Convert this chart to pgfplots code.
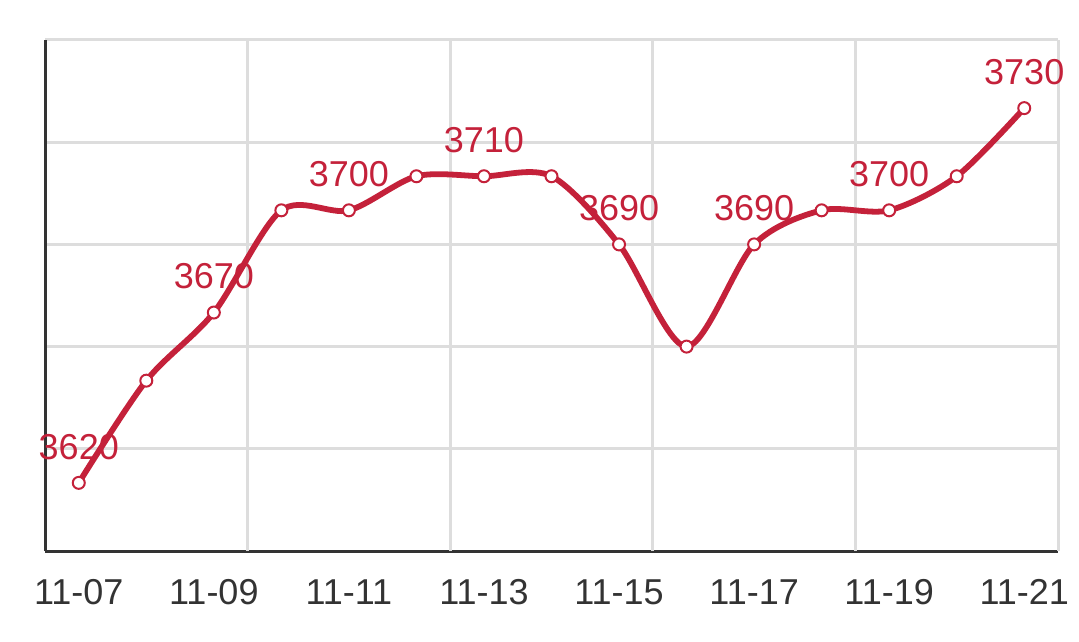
\documentclass[border=0pt]{standalone}
\usepackage{pgfplots}
\pgfplotsset{compat=1.18}
\usepackage{fontspec}
\setmainfont{Liberation Sans}
\definecolor{linered}{HTML}{C4213A}
\definecolor{axgray}{HTML}{333333}
\definecolor{gridgray}{HTML}{DDDDDD}
\begin{document}
\begin{tikzpicture}
\begin{axis}[
  scale only axis,
  width=506.5pt, height=255.5pt,
  xmin=-0.5, xmax=14.5,
  ymin=3600, ymax=3750,
  axis lines=left,
  axis line style={-, line width=1.5pt, color=axgray},
  xtick={0,2,...,14},
  xticklabels={11-07,11-09,11-11,11-13,11-15,11-17,11-19,11-21},
  major tick length=0pt,
  tick style={draw=none},
  extra x ticks={2.5,5.5,8.5,11.5,14.5},
  extra x tick labels={},
  extra x tick style={grid=major, tick style={draw=none}, major grid style={line width=1.5pt, color=gridgray}},
  ytick={3630,3660,3690,3720,3750},
  yticklabels={},
  ymajorgrids,
  major grid style={line width=1.5pt, color=gridgray},
  xticklabel style={font=\fontsize{18pt}{20pt}\selectfont, text=axgray, inner sep=0pt, yshift=-14pt},
  /pgf/number format/assume math mode=true,
  clip=false,
]
\coordinate (bl) at (rel axis cs:0,0);
\coordinate (tr) at (rel axis cs:1,1);
\addplot[linered, line width=2.9pt, smooth, tension=0.5,
  mark=*, mark size=3pt, mark options={fill=white, draw=linered, line width=1pt}]
coordinates {
(0,3620) (1,3650) (2,3670) (3,3700) (4,3700) (5,3710) (6,3710) (7,3710)
(8,3690) (9,3660) (10,3690) (11,3700) (12,3700) (13,3710) (14,3730)
};
\addplot[draw=none, mark=none,
  nodes near coords={\pgfmathprintnumber[1000 sep={}, fixed, precision=0]{\pgfplotspointmeta}},
  nodes near coords style={font=\fontsize{18pt}{20pt}\selectfont, text=linered, anchor=south, inner sep=0pt, yshift=11.5pt}]
coordinates {
(0,3620) (2,3670) (4,3700) (6,3710) (8,3690) (10,3690) (12,3700) (14,3730)
};
\end{axis}
\pgfresetboundingbox
\path ([shift={(-22.5pt,-45pt)}]bl) rectangle ([shift={(10.5pt,20pt)}]tr);
\end{tikzpicture}
\end{document}
